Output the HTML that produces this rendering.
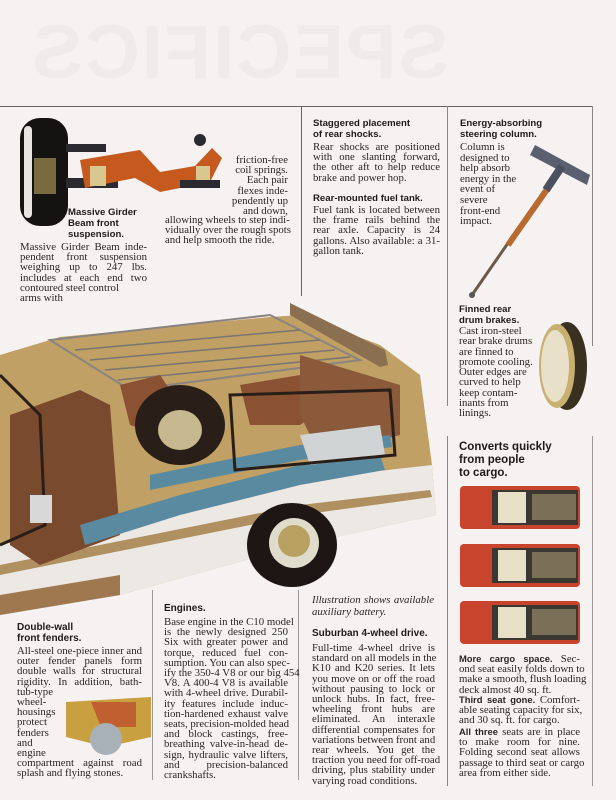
<!DOCTYPE html>
<html><head><meta charset="utf-8"><style>
*{margin:0;padding:0;box-sizing:border-box}
body{width:616px;height:800px;background:#f6f2f1;position:relative;overflow:hidden;font-family:"Liberation Serif",serif;color:#2a2624}
.t{position:absolute;font-size:10.8px;line-height:10.2px;letter-spacing:0}
.t div{white-space:nowrap;text-align:justify;text-align-last:justify}
.t div.l{text-align-last:left}
.t.r div{text-align-last:right}
.h{position:absolute;font-family:"Liberation Sans",sans-serif;font-weight:bold;font-size:9.6px;line-height:11px;color:#1e1a1a;white-space:nowrap}
.b{font-family:"Liberation Sans",sans-serif;font-weight:bold;font-size:9.4px}
.ln{position:absolute;background:#6a6464}
.ghost{position:absolute;left:30px;top:8px;font-family:"Liberation Sans",sans-serif;font-weight:bold;font-size:76px;letter-spacing:2px;color:#f0ebeb;transform:scaleX(-1);white-space:nowrap;line-height:90px}
</style></head><body>
<div class="ghost">SPECIFICS</div>
<div class="ln" style="left:0;top:106px;width:593px;height:1px"></div>
<div class="ln" style="left:301px;top:106px;width:1px;height:190px"></div>
<div class="ln" style="left:447px;top:106px;width:1px;height:300px;background:#888"></div>
<div class="ln" style="left:592px;top:106px;width:1px;height:240px;background:#888"></div>
<div class="ln" style="left:447px;top:436px;width:1px;height:350px;background:#888"></div>
<div class="ln" style="left:152px;top:590px;width:1px;height:190px;background:#999"></div>
<div class="ln" style="left:298px;top:590px;width:1px;height:190px;background:#999"></div>
<div class="ln" style="left:592px;top:436px;width:1px;height:350px;background:#999"></div>

<!-- suspension -->
<svg style="position:absolute;left:0;top:110px" width="300" height="120">
<rect x="20" y="8" width="48" height="108" rx="20" fill="#151311"/>
<rect x="24" y="16" width="8" height="92" rx="4" fill="#e8e4e0"/>
<rect x="34" y="48" width="22" height="36" fill="#7a6a40"/>
<rect x="66" y="34" width="40" height="8" fill="#2a2a30"/>
<rect x="66" y="68" width="52" height="10" fill="#2a2a30"/>
<path d="M80 50 L140 40 L160 62 L195 56 L212 38 L222 48 L210 72 L160 82 L135 68 L85 78 Z" fill="#c65a1e"/>
<rect x="90" y="56" width="16" height="20" fill="#d8c890"/>
<rect x="196" y="56" width="14" height="18" fill="#d8c890"/>
<rect x="180" y="70" width="40" height="8" fill="#2a2a30"/>
<circle cx="200" cy="30" r="6" fill="#2a2a30"/>
</svg>
<div class="h" style="left:68px;top:207px">Massive Girder<br>Beam front<br>suspension.</div>
<div class="t" style="left:20px;top:242px;width:127px">
<div>Massive Girder Beam inde-</div><div>pendent front suspension</div><div>weighing up to 247 lbs.</div><div>includes at each end two</div><div class="l">contoured steel control</div><div class="l">arms with</div></div>
<div class="t r" style="left:200px;top:155px;width:88px">
<div>friction-free</div><div>coil springs.</div><div>Each pair</div><div>flexes inde-</div><div>pendently up</div><div>and down,</div></div>
<div class="t" style="left:165px;top:215px;width:123px">
<div>allowing wheels to step indi-</div><div>vidually over the rough spots</div><div class="l">and help smooth the ride.</div></div>

<div class="h" style="left:313px;top:118px">Staggered placement<br>of rear shocks.</div>
<div class="t" style="left:313px;top:142px;width:127px">
<div>Rear shocks are positioned</div><div>with one slanting forward,</div><div>the other aft to help reduce</div><div class="l">brake and power hop.</div></div>
<div class="h" style="left:313px;top:193px">Rear-mounted fuel tank.</div>
<div class="t" style="left:313px;top:205px;width:127px">
<div>Fuel tank is located between</div><div>the frame rails behind the</div><div>rear axle. Capacity is 24</div><div>gallons. Also available: a 31-</div><div class="l">gallon tank.</div></div>

<div class="h" style="left:460px;top:118px">Energy-absorbing<br>steering column.</div>
<div class="t" style="left:460px;top:142px;width:70px;line-height:10.6px">
<div class="l">Column is</div><div class="l">designed to</div><div class="l">help absorb</div><div class="l">energy in the</div><div class="l">event of</div><div class="l">severe</div><div class="l">front-end</div><div class="l">impact.</div></div>
<svg style="position:absolute;left:460px;top:130px" width="135" height="170">
<path d="M75 15 L130 45 L127 55 L70 25Z" fill="#5a6070"/>
<line x1="100" y1="38" x2="12" y2="165" stroke="#6a5a4a" stroke-width="3"/>
<line x1="88" y1="58" x2="48" y2="115" stroke="#b86a30" stroke-width="6"/>
<line x1="102" y1="36" x2="86" y2="60" stroke="#4a5060" stroke-width="8"/>
<circle cx="12" cy="165" r="3" fill="#555"/>
</svg>

<div class="h" style="left:459px;top:304px">Finned rear<br>drum brakes.</div>
<div class="t" style="left:459px;top:326px;width:80px;line-height:10.3px">
<div class="l">Cast iron-steel</div><div class="l">rear brake drums</div><div class="l">are finned to</div><div class="l">promote cooling.</div><div class="l">Outer edges are</div><div class="l">curved to help</div><div class="l">keep contam-</div><div class="l">inants from</div><div class="l">linings.</div></div>
<svg style="position:absolute;left:535px;top:320px" width="55" height="95">
<ellipse cx="32" cy="46" rx="20" ry="44" fill="#3a3020"/>
<ellipse cx="22" cy="46" rx="18" ry="42" fill="#c8b070"/>
<ellipse cx="20" cy="46" rx="14" ry="36" fill="#e8e0c8"/>
</svg>

<!-- car -->
<svg style="position:absolute;left:0;top:295px" width="445" height="320">
<path d="M0 60 L60 42 L270 22 L300 20 L380 50 L420 80 L432 170 L436 220 L300 250 L120 300 L0 320Z" fill="#c0a064"/>
<path d="M0 250 L300 185 L432 170 L436 220 L300 250 L120 300 L0 320Z" fill="#ece8e4"/>
<path d="M0 270 L300 210 L430 195 L432 202 L300 220 L0 280Z" fill="#b09060"/>
<path d="M0 300 L120 280 L120 300 L0 320Z" fill="#a07850"/>
<path d="M50 45 L270 20 L360 65 L130 95Z" fill="none" stroke="#8a8480" stroke-width="2"/>
<g stroke="#7a7470" stroke-width="1.5"><line x1="75" y1="55" x2="300" y2="35"/><line x1="90" y1="65" x2="320" y2="45"/><line x1="105" y1="75" x2="335" y2="55"/><line x1="118" y1="85" x2="350" y2="62"/></g>
<path d="M290 8 L385 55 L388 70 L380 72 L290 20Z" fill="#8a7050"/>
<path d="M10 120 L80 95 L110 110 L120 240 L40 270 L10 250Z" fill="#7a4a2e"/>
<path d="M120 90 L160 80 L180 110 L160 140 L130 130Z" fill="#8a5232"/>
<path d="M240 90 L300 80 L330 110 L300 130 L250 130Z" fill="#8a5232"/>
<path d="M300 60 L400 90 L400 140 L320 160 L300 120Z" fill="#8a5a3a"/>
<ellipse cx="180" cy="130" rx="45" ry="40" fill="#2a1e18"/>
<ellipse cx="180" cy="135" rx="22" ry="20" fill="#c8b890"/>
<path d="M80 230 L180 200 L300 170 L380 160 L385 175 L300 190 L180 220 L85 250Z" fill="#5a8aa0"/>
<path d="M150 180 L300 150 L390 140 L392 152 L300 165 L150 195Z" fill="#5a8aa0"/>
<path d="M300 140 L380 130 L385 160 L310 170Z" fill="#d0d4d4"/>
<ellipse cx="292" cy="250" rx="45" ry="42" fill="#1e1614"/>
<ellipse cx="294" cy="248" rx="25" ry="25" fill="#e0dccc"/>
<circle cx="294" cy="246" r="16" fill="#b8a060"/>
<path d="M230 100 L390 95 L395 160 L235 175Z" fill="none" stroke="#2a1e18" stroke-width="3"/>
<path d="M0 80 L40 120 L45 230 L0 250" fill="none" stroke="#2a1e18" stroke-width="3"/>
<rect x="30" y="200" width="22" height="28" fill="#d8d8d8"/>
</svg>

<div class="t" style="left:312px;top:594px;width:122px;font-style:italic;line-height:12px">
<div>Illustration shows available</div><div class="l">auxiliary battery.</div></div>

<div class="h" style="left:17px;top:622px;font-size:10px">Double-wall<br>front fenders.</div>
<div class="t" style="left:17px;top:646px;width:125px">
<div>All-steel one-piece inner and</div><div>outer fender panels form</div><div>double walls for structural</div><div>rigidity. In addition, bath-</div><div class="l">tub-type</div><div class="l">wheel-</div><div class="l">housings</div><div class="l">protect</div><div class="l">fenders</div><div class="l">and</div><div class="l">engine</div><div>compartment against road</div><div class="l">splash and flying stones.</div></div>
<svg style="position:absolute;left:66px;top:697px" width="85" height="60">
<path d="M0 5 L85 0 L85 40 L40 50 L0 40Z" fill="#c8a040"/>
<path d="M25 5 L70 5 L70 30 L35 30Z" fill="#c06030"/>
<circle cx="40" cy="42" r="16" fill="#a8b0b8"/>
</svg>

<div class="h" style="left:164px;top:603px;font-size:10px">Engines.</div>
<div class="t" style="left:164px;top:617px;width:124px">
<div>Base engine in the C10 model</div><div>is the newly designed 250</div><div>Six with greater power and</div><div>torque, reduced fuel con-</div><div>sumption. You can also spec-</div><div>ify the 350-4 V8 or our big 454</div><div>V8. A 400-4 V8 is available</div><div>with 4-wheel drive. Durabil-</div><div>ity features include induc-</div><div>tion-hardened exhaust valve</div><div>seats, precision-molded head</div><div>and block castings, free-</div><div>breathing valve-in-head de-</div><div>sign, hydraulic valve lifters,</div><div>and precision-balanced</div><div class="l">crankshafts.</div></div>

<div class="h" style="left:312px;top:628px;font-size:10px">Suburban 4-wheel drive.</div>
<div class="t" style="left:312px;top:643px;width:123px">
<div>Full-time 4-wheel drive is</div><div>standard on all models in the</div><div>K10 and K20 series. It lets</div><div>you move on or off the road</div><div>without pausing to lock or</div><div>unlock hubs. In fact, free-</div><div>wheeling front hubs are</div><div>eliminated. An interaxle</div><div>differential compensates for</div><div>variations between front and</div><div>rear wheels. You get the</div><div>traction you need for off-road</div><div>driving, plus stability under</div><div class="l">varying road conditions.</div></div>

<div class="h" style="left:459px;top:441px;font-size:11.5px;line-height:13px">Converts quickly<br>from people<br>to cargo.</div>
<svg style="position:absolute;left:460px;top:486px" width="122" height="160">
<g id="c"><rect x="0" y="0" width="120" height="43" rx="4" fill="#c8442c"/><rect x="32" y="4" width="86" height="35" fill="#3a3630"/><rect x="38" y="6" width="28" height="31" fill="#e8e0c8"/><rect x="72" y="8" width="44" height="26" fill="#7a7058"/></g>
<use href="#c" y="58"/><use href="#c" y="115"/>
</svg>
<div class="t" style="left:459px;top:654px;width:121px">
<div><span class="b">More cargo space.</span> Sec-</div><div>ond seat easily folds down to</div><div>make a smooth, flush loading</div><div class="l">deck almost 40 sq. ft.</div></div>
<div class="t" style="left:459px;top:695px;width:121px">
<div><span class="b">Third seat gone.</span> Comfort-</div><div>able seating capacity for six,</div><div class="l">and 30 sq. ft. for cargo.</div></div>
<div class="t" style="left:459px;top:727px;width:121px">
<div><span class="b">All three</span> seats are in place</div><div>to make room for nine.</div><div>Folding second seat allows</div><div>passage to third seat or cargo</div><div class="l">area from either side.</div></div>
</body></html>
